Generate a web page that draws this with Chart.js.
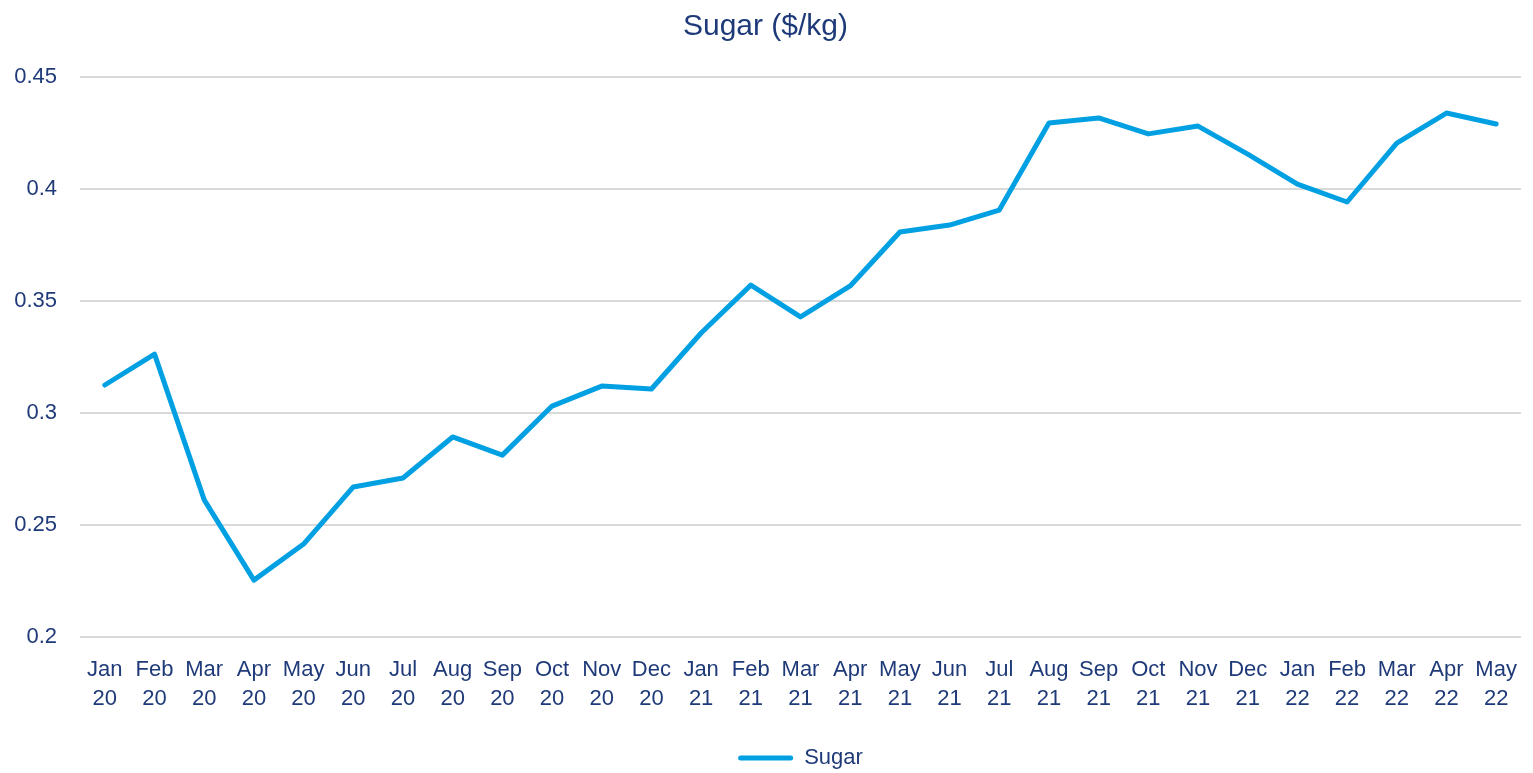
<!DOCTYPE html>
<html>
<head>
<meta charset="utf-8">
<script src="https://cdn.jsdelivr.net/npm/chart.js@4/dist/chart.umd.min.js"></script>
<style>
    html, body { margin: 0; padding: 0; background: #fff; }
    #wrap { width: 1533px; height: 773px; }
</style>
</head>
<body>
<div id="wrap"><canvas id="sugar-chart"></canvas></div>
<script>
const months = ['Jan', 'Feb', 'Mar', 'Apr', 'May', 'Jun', 'Jul', 'Aug', 'Sep', 'Oct', 'Nov', 'Dec',
    'Jan', 'Feb', 'Mar', 'Apr', 'May', 'Jun', 'Jul', 'Aug', 'Sep', 'Oct', 'Nov', 'Dec',
    'Jan', 'Feb', 'Mar', 'Apr', 'May'];
const years = ['20', '20', '20', '20', '20', '20', '20', '20', '20', '20', '20', '20',
    '21', '21', '21', '21', '21', '21', '21', '21', '21', '21', '21', '21',
    '22', '22', '22', '22', '22'];
const sugarPrices = [0.3125, 0.3263, 0.2612, 0.2254, 0.2415, 0.267, 0.271, 0.2893, 0.2812, 0.3031,
    0.312, 0.3107, 0.3357, 0.3571, 0.3429, 0.3567, 0.3808, 0.3839, 0.3906, 0.4295,
    0.4317, 0.4246, 0.4281, 0.4156, 0.4022, 0.3942, 0.4205, 0.4339, 0.429];
const yTicks = [0.2, 0.25, 0.3, 0.35, 0.4, 0.45];

const textColor = '#1f3a78';
const lineColor = '#00a0e3';
const fontFamily = 'Liberation Sans';

document.addEventListener('DOMContentLoaded', function () {
    const labels = months.map((m, i) => [m, years[i]]);
    const ctx = document.getElementById('sugar-chart').getContext('2d');
    new Chart(ctx, {
        type: 'line',
        data: {
            labels: labels,
            datasets: [{
                label: 'Sugar',
                data: sugarPrices,
                borderColor: lineColor,
                backgroundColor: lineColor,
                borderWidth: 5,
                pointRadius: 0,
                tension: 0,
                borderCapStyle: 'round',
                borderJoinStyle: 'round'
            }]
        },
        options: {
            responsive: true,
            maintainAspectRatio: false,
            animation: false,
            layout: { padding: { left: 10, right: 12, top: 0, bottom: -6 } },
            plugins: {
                title: {
                    display: true,
                    text: 'Sugar ($/kg)',
                    color: textColor,
                    font: { family: fontFamily, size: 30, weight: 'normal', lineHeight: 1.2 },
                    padding: { top: 9, bottom: 32 }
                },
                legend: {
                    position: 'bottom',
                    fullSize: false,
                    labels: {
                        color: textColor,
                        font: { family: fontFamily, size: 22 },
                        boxWidth: 55,
                        boxHeight: 5,
                        padding: 3,
                        generateLabels: chart => chart.data.datasets.map((ds, i) => ({
                            text: ds.label,
                            fillStyle: ds.borderColor,
                            strokeStyle: ds.borderColor,
                            lineWidth: 0,
                            borderRadius: 2.5,
                            fontColor: textColor,
                            hidden: false,
                            datasetIndex: i
                        }))
                    }
                },
                tooltip: { enabled: false }
            },
            scales: {
                x: {
                    offset: true,
                    grid: { display: false },
                    border: { display: false },
                    afterFit: scale => { scale.height = 107; },
                    ticks: {
                        color: textColor,
                        font: { family: fontFamily, size: 22, lineHeight: 1.3 },
                        maxRotation: 0,
                        autoSkip: false,
                        padding: 11
                    }
                },
                y: {
                    min: 0.2,
                    max: 0.45,
                    afterBuildTicks: axis => { axis.ticks = yTicks.map(v => ({ value: v })); },
                    afterFit: scale => { scale.width = 70; },
                    grid: { color: '#d9d9d9', lineWidth: 2, drawTicks: false },
                    border: { display: false },
                    ticks: {
                        color: textColor,
                        font: { family: fontFamily, size: 22 },
                        padding: 23,
                        callback: value => String(+value.toFixed(2))
                    }
                }
            }
        }
    });
});
</script>
</body>
</html>
